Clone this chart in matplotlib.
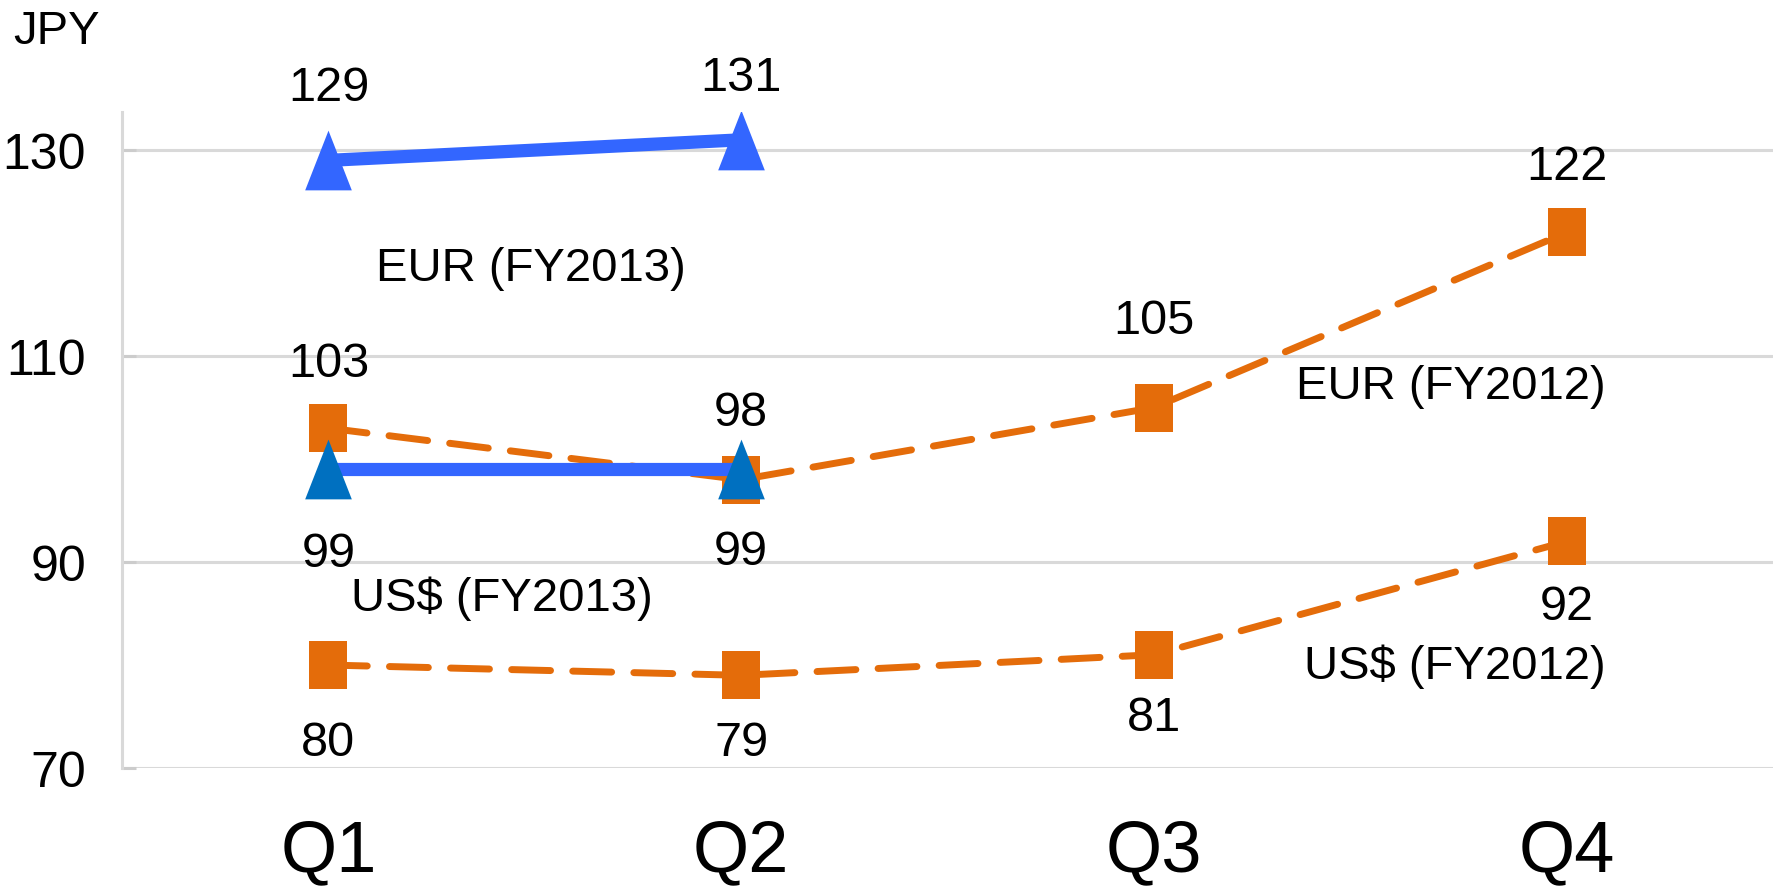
import matplotlib.pyplot as plt
from matplotlib.path import Path

# data
quarters = ["Q1", "Q2", "Q3", "Q4"]
eur_fy2013 = [129, 131]
usd_fy2013 = [99, 99]
eur_fy2012 = [103, 98, 105, 122]
usd_fy2012 = [80, 79, 81, 92]

# label offsets in pixels (negative = above)
eur13_dy = [-73, -62]
usd13_dy = [84, 82]
eur12_dy = [-65, -67, -87, -66]
usd12_dy = [77, 67, 63, 65]

ORANGE = "#E46C0A"
BLUE = "#3366FF"
DARK_BLUE = "#0070C0"
GRID = "#D9D9D9"

NARROW = ["Liberation Sans Narrow", "Liberation Sans", "DejaVu Sans"]
WIDE = ["Liberation Sans", "DejaVu Sans"]

# tall markers (the source is stretched vertically)
sq = Path([(-1, -1.27), (1, -1.27), (1, 1.27), (-1, 1.27), (-1, -1.27)],
          [Path.MOVETO, Path.LINETO, Path.LINETO, Path.LINETO, Path.CLOSEPOLY])
tri = Path([(0, 1.28), (1, -1.28), (-1, -1.28), (0, 1.28)],
           [Path.MOVETO, Path.LINETO, Path.LINETO, Path.CLOSEPOLY])

fig = plt.figure(figsize=(17.73, 8.87), dpi=100)
ax = fig.add_axes([122 / 1773, 118 / 887, 1 - 122 / 1773, 656 / 887])

x4 = list(range(len(quarters)))
x2 = x4[:2]

dash_kw = dict(linestyle="--", dashes=(5.6, 3.2), dash_capstyle="round", lw=5)
ax.plot(x4, usd_fy2012, color=ORANGE, marker=sq, ms=35, mec=ORANGE, mew=0, zorder=3, **dash_kw)
ax.plot(x4, eur_fy2012, color=ORANGE, marker=sq, ms=35, mec=ORANGE, mew=0, zorder=3, **dash_kw)
ax.plot(x2, eur_fy2013, color=BLUE, lw=9.5, marker=tri, ms=43, mfc=BLUE, mec=BLUE, mew=0, zorder=4)
ax.plot(x2, usd_fy2013, color=BLUE, lw=9.5, marker=tri, ms=43, mfc=DARK_BLUE, mec=DARK_BLUE, mew=0, zorder=4)


def add_labels(xs, ys, dys):
    for x, y, dy in zip(xs, ys, dys):
        ax.annotate(f"{y}", (x, y), xytext=(0, -dy * 0.72), textcoords="offset points",
                    ha="center", va="center", fontsize=35, family=NARROW, zorder=5)


add_labels(x2, eur_fy2013, eur13_dy)
add_labels(x2, usd_fy2013, usd13_dy)
add_labels(x4, eur_fy2012, eur12_dy)
add_labels(x4, usd_fy2012, usd12_dy)

# series names
names = ["EUR (FY2013)", "EUR (FY2012)", "US$ (FY2013)", "US$ (FY2012)"]
name_pos = [(0.49, 118.6), (2.72, 107.1), (0.42, 86.5), (2.73, 79.9)]
for n, (px, py) in zip(names, name_pos):
    ax.text(px, py, n, ha="center", va="center", fontsize=34, family=WIDE, zorder=5)

ax.set_xlim(-0.5, 3.5)
ax.set_ylim(70, 133.7)
ax.set_yticks([70, 90, 110, 130])
ax.set_xticks(x4)
ax.set_xticklabels(quarters, family=NARROW, fontsize=52)
for lab in ax.get_yticklabels():
    lab.set_family(NARROW)
    lab.set_fontsize(36)

ax.grid(axis="y", color=GRID, lw=2.2, zorder=0)
ax.set_axisbelow(True)
for s in ["top", "right", "bottom"]:
    ax.spines[s].set_visible(False)
ax.spines["left"].set_color(GRID)
ax.spines["left"].set_linewidth(2.2)
ax.tick_params(axis="y", direction="in", length=10, width=2.2, color="#CCCCCC", pad=26)
ax.tick_params(axis="x", length=0, pad=36)

fig.text(13 / 1773, 1 - 44 / 887, "JPY", fontsize=34, family=WIDE, ha="left", va="baseline")

fig.savefig("out.png", dpi=100)
